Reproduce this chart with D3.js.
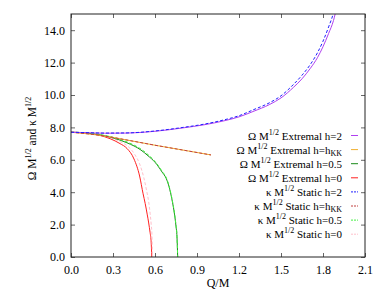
<!DOCTYPE html>
<html>
<head>
<meta charset="utf-8">
<script src="https://cdn.jsdelivr.net/npm/d3@7"></script>
<style>
  html, body { margin: 0; padding: 0; background: #fff; }
</style>
</head>
<body>
<svg id="chart" width="382" height="294"></svg>
<script>
// ---- data ----
const xTicks = [0.0, 0.3, 0.6, 0.9, 1.2, 1.5, 1.8, 2.1];
const yTicks = [0, 2, 4, 6, 8, 10, 12, 14];

// h = 2
const qH2 = [0, 0.1, 0.24, 0.4, 0.6, 0.8, 0.95, 1.1, 1.2, 1.3, 1.42, 1.5, 1.59, 1.65, 1.71, 1.76, 1.8, 1.84, 1.875, 1.9];
const omegaH2 = [7.7, 7.68, 7.64, 7.65, 7.76, 7.97, 8.16, 8.42, 8.65, 8.98, 9.42, 9.82, 10.48, 11.0, 11.65, 12.3, 12.98, 13.8, 14.6, 15.5];
const kappaH2 = [7.7, 7.68, 7.65, 7.66, 7.78, 8.0, 8.2, 8.48, 8.72, 9.08, 9.53, 9.95, 10.66, 11.22, 11.89, 12.6, 13.32, 14.2, 15.1, 16.2];

// h = h_KK
const qKK = [0, 0.1, 0.2, 0.3, 0.4, 0.5, 0.6, 0.7, 0.8, 0.9, 1.0];
const omegaKK = [7.7, 7.62, 7.52, 7.38, 7.22, 7.06, 6.9, 6.75, 6.6, 6.45, 6.3];
const kappaKK = [7.7, 7.62, 7.52, 7.38, 7.22, 7.06, 6.9, 6.75, 6.6, 6.45, 6.3];

// h = 0.5
const qH05 = [0, 0.1, 0.2, 0.3, 0.4, 0.5, 0.55, 0.6, 0.65, 0.68, 0.7, 0.72, 0.74, 0.75, 0.757, 0.762];
const omegaH05 = [7.7, 7.66, 7.55, 7.35, 7.05, 6.6, 6.25, 5.85, 5.25, 4.85, 4.35, 3.6, 2.6, 1.9, 1.25, 0];
const kappaH05 = [7.7, 7.67, 7.57, 7.39, 7.1, 6.66, 6.32, 5.9, 5.3, 4.9, 4.4, 3.65, 2.65, 1.95, 1.3, 0];

// h = 0
const qH0 = [0, 0.1, 0.2, 0.28, 0.35, 0.4, 0.45, 0.49, 0.515, 0.53, 0.545, 0.555, 0.565, 0.572, 0.577];
const omegaH0 = [7.7, 7.66, 7.52, 7.3, 7.0, 6.7, 6.05, 5.0, 3.9, 3.3, 2.6, 2.1, 1.5, 1.0, 0];
const qH0k = [0, 0.1, 0.2, 0.28, 0.35, 0.4, 0.45, 0.49, 0.52, 0.54, 0.555, 0.565, 0.573, 0.578, 0.582];
const kappaH0 = [7.7, 7.67, 7.55, 7.38, 7.12, 6.88, 6.4, 5.75, 4.9, 4.1, 3.4, 2.7, 2.0, 1.4, 0];

const seriesNames = ["Extremal h=2", "Extremal h=hKK", "Extremal h=0.5", "Extremal h=0",
                     "Static h=2", "Static h=hKK", "Static h=0.5", "Static h=0"];

// ---- chart ----
const FONT = "Liberation Serif";
const W = 382, H = 294;
const margin = {left: 71, top: 14, right: 17, bottom: 37};
const svg = d3.select("#chart");
const x = d3.scaleLinear().domain([0, 2.1]).range([margin.left, W - margin.right]);
const y = d3.scaleLinear().domain([0, 15]).range([H - margin.bottom, margin.top]);

svg.append("defs").append("clipPath").attr("id", "clip")
  .append("rect").attr("x", margin.left).attr("y", margin.top)
  .attr("width", W - margin.left - margin.right).attr("height", H - margin.top - margin.bottom);

const series = [
  {q: qH2, v: omegaH2, color: "#b040f0", dash: null},
  {q: qKK, v: omegaKK, color: "#f0b030", dash: null},
  {q: qH05, v: omegaH05, color: "#1a8a1a", dash: null},
  {q: qH0, v: omegaH0, color: "#ff2020", dash: null},
  {q: qH2, v: kappaH2, color: "#2020ff", dash: "3,2"},
  {q: qKK, v: kappaKK, color: "#c04040", dash: "3,2"},
  {q: qH05, v: kappaH05, color: "#40f040", dash: "3,2"},
  {q: qH0k, v: kappaH0, color: "#ffc0cb", dash: "3,2"}
];

const line = d3.line().x(d => x(d[0])).y(d => y(d[1])).curve(d3.curveMonotoneX);
const g = svg.append("g").attr("clip-path", "url(#clip)");
[3, 7, 2, 6, 1, 5, 0, 4].forEach(i => {
  const s = series[i];
  g.append("path")
    .datum(s.q.map((q, j) => [q, s.v[j]]))
    .attr("fill", "none")
    .attr("stroke", s.color)
    .attr("stroke-width", 1)
    .attr("stroke-dasharray", s.dash)
    .attr("d", line);
});

// axes: ticks inward on all four sides
const tickLen = 4;
const fmt = d3.format(".1f");
const xB = svg.append("g").attr("transform", `translate(0,${H - margin.bottom})`)
  .call(d3.axisBottom(x).tickValues(xTicks).tickFormat(fmt).tickSizeInner(-tickLen).tickSizeOuter(0).tickPadding(8));
const xT = svg.append("g").attr("transform", `translate(0,${margin.top})`)
  .call(d3.axisTop(x).tickValues(xTicks).tickFormat("").tickSizeInner(-tickLen).tickSizeOuter(0));
const yL = svg.append("g").attr("transform", `translate(${margin.left},0)`)
  .call(d3.axisLeft(y).tickValues(yTicks).tickFormat(fmt).tickSizeInner(-tickLen).tickSizeOuter(0).tickPadding(6));
const yR = svg.append("g").attr("transform", `translate(${W - margin.right},0)`)
  .call(d3.axisRight(y).tickValues(yTicks).tickFormat("").tickSizeInner(-tickLen).tickSizeOuter(0));
[xB, xT, yL, yR].forEach(a => {
  a.attr("font-family", FONT).attr("font-size", 12);
  a.select(".domain").remove();
  a.selectAll("line").attr("stroke", "#666");
  a.selectAll("text").attr("fill", "#000");
});
svg.append("rect")
  .attr("x", margin.left).attr("y", margin.top)
  .attr("width", W - margin.left - margin.right).attr("height", H - margin.top - margin.bottom)
  .attr("fill", "none").attr("stroke", "#222").attr("stroke-width", 1);

// axis titles
svg.append("text").attr("x", (margin.left + W - margin.right) / 2).attr("y", 287)
  .attr("text-anchor", "middle").attr("font-size", 12).attr("font-family", FONT).text("Q/M");

const yl = svg.append("text")
  .attr("transform", `translate(36,${(margin.top + H - margin.bottom) / 2 + 3}) rotate(-90)`)
  .attr("text-anchor", "middle").attr("font-size", 11.5).attr("font-family", FONT);
yl.append("tspan").text("Ω M");
yl.append("tspan").attr("font-size", 8).attr("dy", -5).text("1/2");
yl.append("tspan").attr("dy", 5).text(" and κ M");
yl.append("tspan").attr("font-size", 8).attr("dy", -5).text("1/2");

// legend
const legX = 342, legY0 = 139.5, legDy = 14.1;
series.forEach((s, i) => {
  const yy = legY0 + i * legDy;
  const t = svg.append("text").attr("x", legX).attr("y", yy).attr("text-anchor", "end")
    .attr("font-size", 11).attr("font-family", FONT);
  const isOmega = i < 4;
  t.append("tspan").text(isOmega ? "Ω M" : "κ M");
  t.append("tspan").attr("font-size", 8).attr("dy", -5).text("1/2");
  const name = seriesNames[i];
  if (name.endsWith("hKK")) {
    t.append("tspan").attr("dy", 5).text(" " + name.slice(0, -2));
    t.append("tspan").attr("font-size", 8).attr("dy", 2).text("KK");
  } else {
    t.append("tspan").attr("dy", 5).text(" " + name);
  }
  svg.append("line").attr("x1", 351).attr("x2", 358).attr("y1", yy - 4).attr("y2", yy - 4)
    .attr("stroke", s.color).attr("stroke-width", 1).attr("stroke-dasharray", s.dash ? "2,1" : null);
});
</script>
</body>
</html>
